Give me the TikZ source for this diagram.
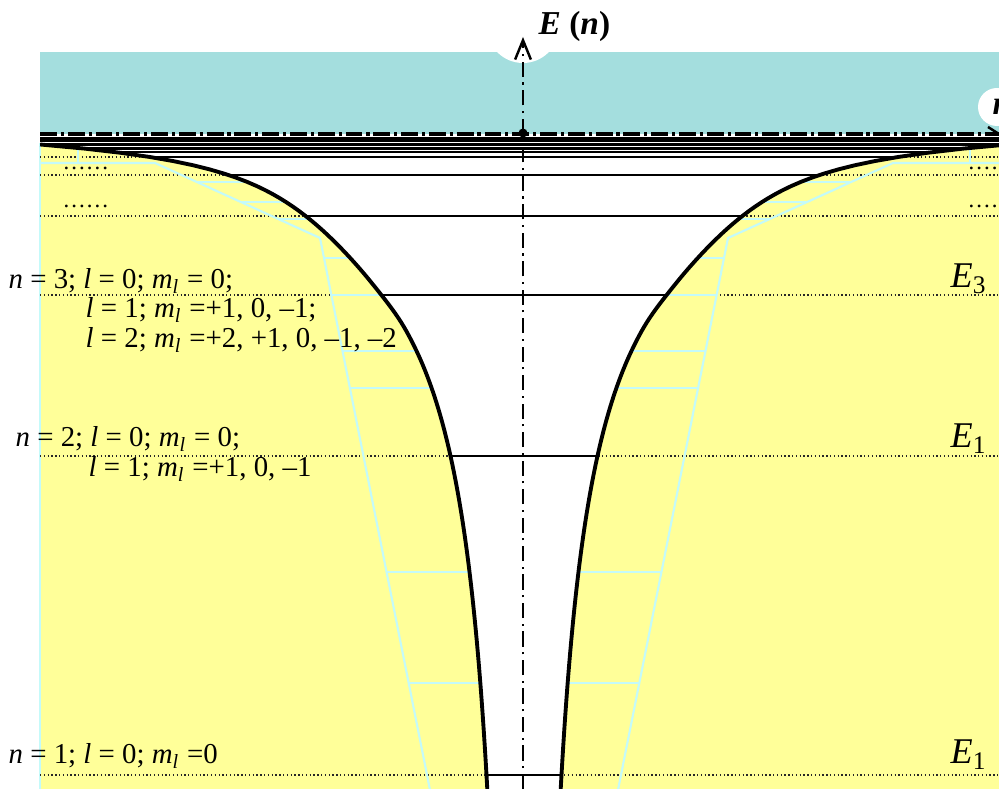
\documentclass[tikz,border=0pt]{standalone}
\usepackage{fontspec}
\setmainfont{Liberation Serif}
\usetikzlibrary{arrows.meta}
\definecolor{yel}{RGB}{255,255,153}
\definecolor{cya}{RGB}{164,222,222}
\definecolor{lcy}{RGB}{196,250,250}
\tikzset{
 lvl/.style={line width=0.75pt},
 dotl/.style={line width=0.38pt, draw=black!85, dash pattern=on 0.38pt off 0.7pt},
 cyl/.style={draw=lcy, line width=0.6pt},
 pot/.style={line width=1.1pt, line join=round},
 lab/.style={font=\fontsize{8.2}{9}\selectfont, inner sep=0pt, anchor=base west},
 elab/.style={font=\fontsize{10.3}{12}\selectfont, inner sep=0pt, anchor=base west},
 dots/.style={font=\fontsize{6.6}{7}\selectfont, inner sep=0pt, anchor=base west},
 axisline/.style={line width=0.6pt, dash pattern=on 4.3pt off 1.6pt on 0.6pt off 1.6pt},
 zeroline/.style={line width=0.9pt, dash pattern=on 4.8pt off 1.1pt on 0.9pt off 1.1pt},
 declare function={
   hwa(\d)=490-125*ln(\d/10)-18*pow(sin(180*ln(\d/10)/2.779),2);
   hwb(\d)=244.24/(\d+10.3)*100;
   wt(\d)=min(max((\d-140)/70,0),1);
   sm(\d)=wt(\d)*wt(\d)*(3-2*wt(\d));
   hw(\d)=hwa(\d)+(hwb(\d)-hwa(\d))*sm(\d);},
}
\begin{document}
\begin{tikzpicture}[x=0.01cm,y=-0.01cm]
\useasboundingbox (0,0) rectangle (999,789);
\clip (0,0) rectangle (999,789);
% cyan continuum
\fill[cya] (40,52) rectangle (1010,134);
\fill[white] (523,27) circle (36);
% yellow
\fill[yel] (40,137) rectangle (1010,800);
\draw[cyl] (40,143) -- (40,800);
% dotted level lines
\foreach \yy in {157,175,216,295,456,775}
  \draw[dotl] (40,\yy) -- (1010,\yy);
% cyan ladder
\draw[cyl] (78,150) -- (78,163);
\draw[cyl] (40,163) -- (155,163) -- (320,238) -- (432,800);
\draw[cyl] (970,150) -- (970,163);
\draw[cyl] (1010,163) -- (893,163) -- (728,238) -- (616,800);
\foreach \yy/\xx in {182/196.8,202/240.8,219/278.2,258/324,295/331.4,351/342.6,388/349.9,572/386.7,683/408.8}{
  \draw[cyl] (\xx,\yy) -- (500,\yy);
  \draw[cyl] (1048-\xx,\yy) -- (548,\yy);
}
% well interior
\fill[white] (40,136)
  -- plot[domain=10.5:670, samples=160, variable=\d] ({524-hw(\d)},{134+\d})
  -- plot[domain=670:10.5, samples=160, variable=\d] ({524+hw(\d)},{134+\d})
  -- (1010,136) -- cycle;
\begin{scope}
\clip (40,136)
  -- plot[domain=10.5:670, samples=160, variable=\d] ({524-hw(\d)},{134+\d})
  -- plot[domain=670:10.5, samples=160, variable=\d] ({524+hw(\d)},{134+\d})
  -- (1010,136) -- cycle;
\draw[line width=1.3pt] (40,139.5) -- (1010,139.5);
\foreach \yy in {775,456,295,216,175,157,152,148.5,144.5}
  \draw[lvl] (40,\yy) -- (1010,\yy);
\end{scope}
% potential curve
\draw[pot] plot[domain=10.5:670, samples=160, variable=\d] ({524-hw(\d)},{134+\d});
\draw[pot] plot[domain=10.5:670, samples=160, variable=\d] ({524+hw(\d)},{134+\d});
% zero line
\draw[zeroline] (40,134) -- (1010,134);
% axis
\coordinate (axbot) at (523,789);
\coordinate (axtop) at (523,37);
\draw[axisline, -{Straight Barb[length=5.5pt,width=4.5pt,line width=0.7pt]}] (axbot) -- (axtop);
\fill (523,133) circle (4.5);
\node[inner sep=0pt, anchor=base west, font=\fontsize{9.5}{11}\selectfont\bfseries] (en) at (538,35) {\textit{E} (\textit{n})};
% right label
\fill[white] (997,107) circle (19);
\node[inner sep=0pt, anchor=base west, font=\fontsize{9.5}{11}\selectfont\bfseries] (nlab) at (992,115) {\textit{n}};
\draw[line width=0.7pt] (988,127) -- (999,134);
% dots
\node[dots] (d1) at (62,170) {……};
\node[dots] (d2) at (62,208) {……};
\node[dots] (d3) at (967,170) {……};
\node[dots] (d4) at (967,208) {……};
% left labels
\node[lab] (t1) at (8,289) {\textit{n} = 3; \textit{l} = 0; \textit{m}\textsubscript{\textit{l}} = 0;};
\node[lab] (t2) at (85,318) {\textit{l} = 1; \textit{m}\textsubscript{\textit{l}} =+1, 0, –1;};
\node[lab] (t3) at (85,348) {\textit{l} = 2; \textit{m}\textsubscript{\textit{l}} =+2, +1, 0, –1, –2};
\node[lab] (t4) at (15,447) {\textit{n} = 2; \textit{l} = 0; \textit{m}\textsubscript{\textit{l}} = 0;};
\node[lab] (t5) at (88,477) {\textit{l} = 1; \textit{m}\textsubscript{\textit{l}} =+1, 0, –1};
\node[lab] (t6) at (8,764) {\textit{n} = 1; \textit{l} = 0; \textit{m}\textsubscript{\textit{l}} =0};
% right labels
\node[elab] (e3) at (950,288) {\textit{E}\textsubscript{3}};
\node[elab] (e2) at (950,448) {\textit{E}\textsubscript{1}};
\node[elab] (e1) at (950,764) {\textit{E}\textsubscript{1}};
\end{tikzpicture}
\end{document}
